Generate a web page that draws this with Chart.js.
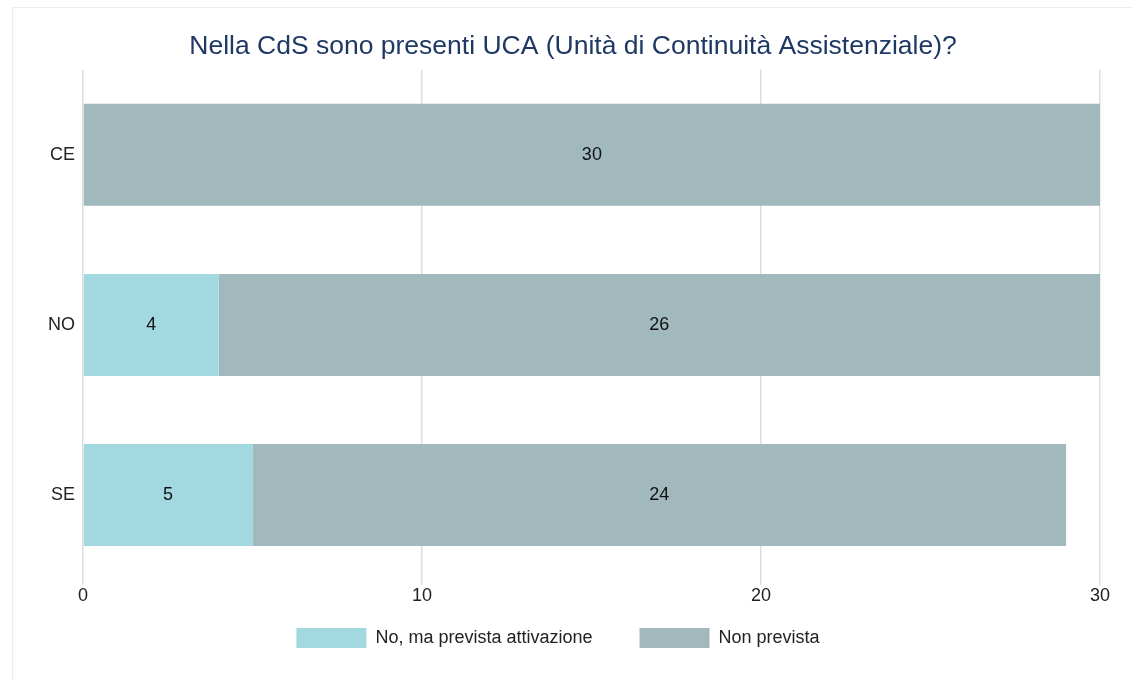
<!DOCTYPE html>
<html>
<head>
<meta charset="utf-8">
<script src="https://cdn.jsdelivr.net/npm/chart.js@4.4.1/dist/chart.umd.min.js"></script>
<style>
  html, body { margin: 0; padding: 0; background: #fff; overflow: hidden; }
  .card {
    position: absolute; left: 12px; top: 7px;
    width: 1132px; height: 690px;
    border: 1px solid #ececec;
    background: #fff;
  }
  .wrap { position: absolute; left: 0; top: 0; width: 1120px; height: 674px; }
</style>
</head>
<body>
<div class="card">
  <div class="wrap"><canvas id="chart"></canvas></div>
</div>
<script>
const categories  = ['CE', 'NO', 'SE'];
const prevista    = [0, 4, 5];
const nonPrevista = [30, 26, 24];
const xTicks      = [0, 10, 20, 30];
const seriesNames = ['No, ma prevista attivazione', 'Non prevista'];

const FONT = '"Liberation Sans", Arial, sans-serif';

// Labels in the middle of each segment
const segmentLabels = {
  id: 'segmentLabels',
  afterDatasetsDraw(chart) {
    const ctx = chart.ctx;
    ctx.save();
    ctx.font = '18px ' + FONT;
    ctx.fillStyle = '#111';
    ctx.textAlign = 'center';
    ctx.textBaseline = 'middle';
    chart.data.datasets.forEach((ds, i) => {
      const meta = chart.getDatasetMeta(i);
      meta.data.forEach((bar, j) => {
        const v = ds.data[j];
        if (!v) return;
        ctx.fillText(String(v), (bar.x + bar.base) / 2, bar.y);
      });
    });
    ctx.restore();
  }
};

// Legend uses a wide label padding (item gap); pull it up under the axis
const legendNudge = {
  id: 'legendNudge',
  afterLayout(chart) {
    const lg = chart.legend;
    if (!lg) return;
    lg.top = chart.chartArea.bottom + 1;
    lg.height = 80;
    lg.bottom = lg.top + lg.height;
    lg.left -= 15; lg.right -= 15;
  }
};

new Chart(document.getElementById('chart'), {
  type: 'bar',
  data: {
    labels: categories,
    datasets: [
      { label: seriesNames[0], data: prevista,    backgroundColor: '#a2d9e1', categoryPercentage: 0.6, barPercentage: 1 },
      { label: seriesNames[1], data: nonPrevista, backgroundColor: '#a1b9bc', categoryPercentage: 0.6, barPercentage: 1 }
    ]
  },
  options: {
    indexAxis: 'y',
    responsive: true,
    maintainAspectRatio: false,
    animation: false,
    layout: { padding: { left: 33, right: 33, top: 0, bottom: 24 } },
    scales: {
      x: {
        stacked: true,
        min: 0, max: 30,
        afterBuildTicks: s => { s.ticks = xTicks.map(v => ({ value: v })); },
        afterFit: s => { s.height = 28; },
        grid: { color: '#dddddd', lineWidth: 1.5, tickLength: 5 },
        border: { display: false },
        ticks: { color: '#222', font: { size: 18, family: FONT }, padding: 0 }
      },
      y: {
        stacked: true,
        grid: { display: false, drawTicks: false, tickLength: 0 },
        border: { display: false },
        ticks: { color: '#222', font: { size: 18, family: FONT }, padding: 8 },
        afterFit: s => { s.width = 37; }
      }
    },
    plugins: {
      title: {
        display: true,
        text: 'Nella CdS sono presenti UCA (Unità di Continuità Assistenziale)?',
        color: '#1f3864',
        font: { size: 26.5, family: FONT, weight: 'normal' },
        padding: { top: 23, bottom: 7 }
      },
      legend: {
        position: 'bottom',
        maxHeight: 50,
        labels: {
          boxWidth: 70, boxHeight: 20,
          padding: 47,
          color: '#222',
          font: { size: 18, family: FONT }
        }
      },
      tooltip: { enabled: false }
    }
  },
  plugins: [segmentLabels, legendNudge]
});
</script>
</body>
</html>
